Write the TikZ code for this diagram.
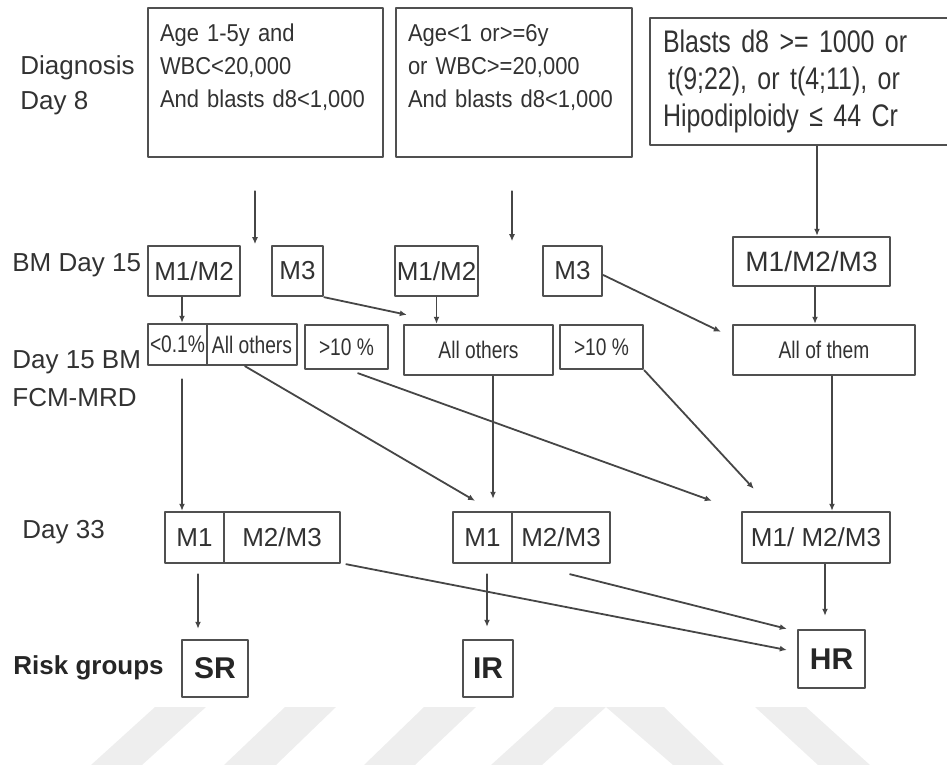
\documentclass[tikz,border=0pt]{standalone}
\usepackage{fontspec}
\setmainfont{Liberation Sans}
\newfontfamily\narrowsf{Liberation Sans}[FakeStretch=0.8]
\newfontfamily\condsf{Liberation Sans}[FakeStretch=0.9]
\usepackage{tikz}
\usetikzlibrary{calc,arrows.meta}

\begin{document}
\begin{tikzpicture}[x=0.5pt, y=-0.5pt, line cap=round, line join=round,
  box/.style={draw=boxgray, line width=1.2pt, inner sep=0pt, text=txtgray},
  sz/.style 2 args={minimum width=#1*0.5pt, minimum height=#2*0.5pt},
  crit/.style={box, align=left, inner xsep=6pt, inner ysep=0pt},
  cell/.style={box, font=\fontsize{13}{15}\selectfont},
  cellnar/.style={box, font=\narrowsf\fontsize{12}{14}\selectfont},
  risk/.style={box, font=\bfseries\fontsize{15}{17}\selectfont, text=black!85},
  lbl/.style={anchor=west, align=left, inner sep=0pt, text=txtgray, font=\fontsize{13}{17.5}\selectfont},
  arr/.style={draw=linegray, line width=0.9pt, -{Latex[length=3.5pt,width=3pt]}}]

% Colors
\definecolor{boxgray}{RGB}{80,80,80}
\definecolor{txtgray}{RGB}{50,50,50}
\definecolor{linegray}{RGB}{70,70,70}
\definecolor{wmgray}{RGB}{238,238,238}

\useasboundingbox (0,0) rectangle (947,765);

% Watermark bands
\fill[wmgray] (155,707) -- (206,707) -- (142,765) -- (91,765) -- cycle;
\fill[wmgray] (285,707) -- (336,707) -- (276,765) -- (224,765) -- cycle;
\fill[wmgray] (424,707) -- (476,707) -- (415,765) -- (364,765) -- cycle;
\fill[wmgray] (555,707) -- (664,707) -- (724,765) -- (673,765) -- (606,707)
  -- (542,765) -- (491,765) -- cycle;
\fill[wmgray] (755,707) -- (806,707) -- (870,765) -- (818,765) -- cycle;

% Row labels
\node[lbl] (lbDiag) at (20,85.5) {Diagnosis\\Day 8};
\node[lbl] (lbBM) at (12,265) {BM Day 15};
\node[lbl, font=\fontsize{13}{19}\selectfont] (lbMRD) at (12,379) {Day 15 BM\\FCM-MRD};
\node[lbl] (lbD33) at (22,532) {Day 33};
\node[lbl, font=\bfseries\fontsize{13}{15}\selectfont, text=black!85] (lbRisk) at (13,668) {Risk groups};

% Diagnosis / day 8
\node[crit, text width=105.5pt, minimum height=74.5pt, font=\condsf\fontsize{12.2}{16.5}\selectfont]
  (critA) at (265.5,82.5) {Age 1-5y and\\WBC<20,000\\And blasts d8<1,000\\~};
\node[crit, text width=106pt, minimum height=74.5pt, font=\condsf\fontsize{12.2}{16.5}\selectfont]
  (critB) at (514,82.5) {Age<1 or>=6y\\or WBC>=20,000\\And blasts d8<1,000\\~};
\node[crit, text width=154pt, inner xsep=6.5pt, minimum height=63.5pt, font=\narrowsf\fontsize{15.6}{18.5}\selectfont]
  (critC) at (817,81.5) {Blasts d8 >= 1000 or\\\hspace{2.5pt}t(9;22), or t(4;11), or\\Hipodiploidy ≤ 44 Cr};

% BM day 15
\node[cell, sz={92}{50}] (m12a) at (194,271) {M1/M2};
\node[cell, sz={51}{50}] (m3a) at (297.5,271) {M3};
\node[cell, sz={83}{50}] (m12b) at (436.5,271) {M1/M2};
\node[cell, sz={59}{50}] (m3b) at (572.5,271) {M3};
\node[cell, sz={157}{49}, font=\fontsize{14}{16}\selectfont] (m123) at (811.5,261.5) {M1/M2/M3};

% Day 15 BM FCM-MRD
\node[cellnar, sz={59}{41}] (lt01) at (177.5,344.5) {<0.1\%};
\node[cellnar, sz={90}{41}] (allo1) at (252,344.5) {All others};
\node[cellnar, sz={83}{44}] (gt10a) at (346.5,347) {>10 \%};
\node[cellnar, sz={149}{50}] (allo2) at (478.5,350) {All others};
\node[cellnar, sz={83}{44}] (gt10b) at (601.5,347) {>10 \%};
\node[cellnar, sz={182}{50}] (allthem) at (824,350) {All of them};

% Day 33
\node[cell, sz={59}{51}] (d33a1) at (194.5,537.5) {M1};
\node[cell, sz={116}{51}] (d33a2) at (282,537.5) {M2/M3};
\node[cell, sz={59}{51}] (d33b1) at (482.5,537.5) {M1};
\node[cell, sz={98}{51}] (d33b2) at (561,537.5) {M2/M3};
\node[cell, sz={148}{51}] (d33c) at (816,537.5) {M1/ M2/M3};

% Risk groups
\node[risk, sz={66}{57}] (sr) at (215,668.5) {SR};
\node[risk, sz={50}{57}] (ir) at (488,668.5) {IR};
\node[risk, sz={67}{58}] (hr) at (831.5,659) {HR};

% Arrows
\coordinate (aTop) at ($(critA.south)+(-10.5,33)$);
\coordinate (aEnd) at ($(critA.south)+(-10.5,86)$);
\coordinate (bTop) at ($(critB.south)+(-2,33)$);
\coordinate (bEnd) at ($(critB.south)+(-2,83)$);
\draw[arr] (aTop) -- (aEnd);
\draw[arr] (bTop) -- (bEnd);
\draw[arr] (critC.south) -- (critC.south |- m123.north);

\draw[arr] ($(m12a.south)+(-12,0)$) -- ($(lt01.north)+(4.5,0)$);
\draw[arr] (m3a.south east) -- ($(allo2.north west)+(4,-9)$);
\draw[arr] (m12b.south) -- (m12b.south |- allo2.north);
\draw[arr] ($(m3b.east)+(0,4)$) -- ($(allthem.north west)+(-11,8)$);
\draw[arr] ($(m123.south)+(3.5,0)$) -- ($(allthem.north)+(-9,0)$);

\draw[arr] ($(lt01.south)+(4.5,13)$) -- ($(d33a1.north)+(-12.5,0)$);
\draw[arr] ($(allo1.south)+(-7,0)$) -- ($(d33b1.north)+(-7.5,-10)$);
\draw[arr] ($(allo2.south)+(14.5,0)$) -- ($(d33b1.north)+(10.5,-12)$);
\draw[arr] ($(gt10a.south)+(11.5,3)$) -- ($(d33c.north west)+(-29,-10)$);
\draw[arr] (gt10b.south east) -- ($(d33c.north west)+(13,-22)$);
\draw[arr] ($(allthem.south)+(8,0)$) -- ($(d33c.north)+(16,0)$);

\draw[arr] ($(d33a1.south)+(3.5,10)$) -- ($(sr.north)+(-17,-10)$);
\draw[arr] ($(d33a2.south east)+(5,0)$) -- ($(hr.west)+(-10,-9)$);
\draw[arr] ($(d33b1.south)+(4.5,10)$) -- ($(ir.north)+(-1,-12)$);
\draw[arr] ($(d33b2.south)+(9,10)$) -- ($(hr.north west)+(-10,0)$);
\draw[arr] ($(d33c.south)+(9,0)$) -- ($(hr.north)+(-6.5,-13)$);
\end{tikzpicture}
\end{document}
